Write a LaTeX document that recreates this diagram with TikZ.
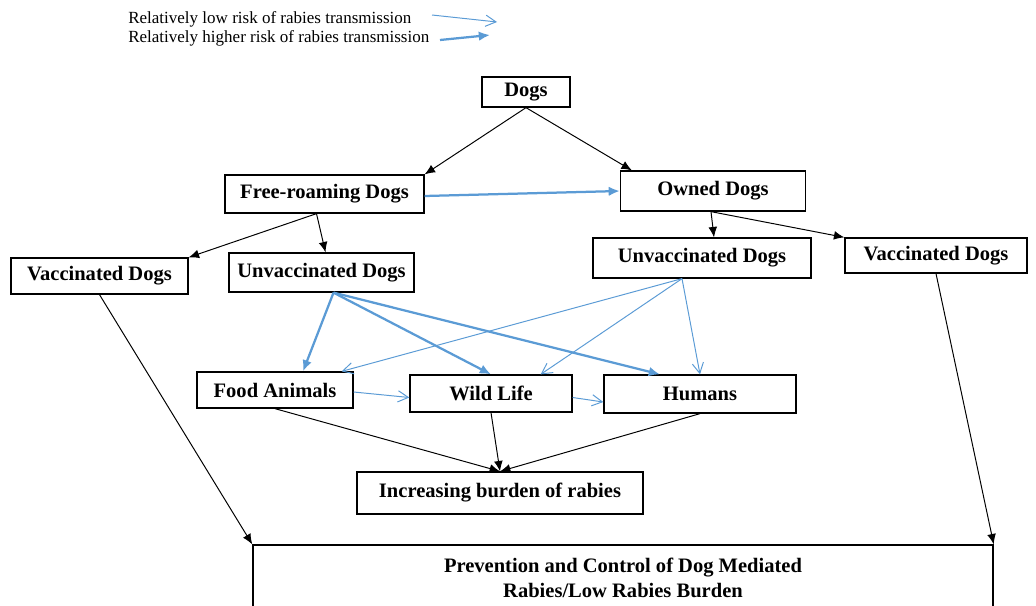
\documentclass[tikz,border=0pt]{standalone}
\usepackage{fontspec}
\setmainfont{Liberation Serif}
\usetikzlibrary{arrows.meta, positioning, calc}
\definecolor{RiskBlue}{RGB}{91,155,213}

\begin{document}
\begin{tikzpicture}[x=0.025cm, y=-0.025cm,
    box/.style={draw=black, line width=0.9pt, align=center, inner sep=2pt,
        font=\fontsize{14.6}{17.5}\selectfont\bfseries},
    legend/.style={anchor=west, inner sep=0pt, font=\fontsize{12.1}{14}\selectfont},
    link/.style={-{Latex[length=2.6mm, width=2.2mm]}, line width=0.7pt, black},
    lowrisk/.style={-{Straight Barb[length=2.6mm, width=2.8mm]}, line width=0.7pt, RiskBlue},
    highrisk/.style={-{Latex[length=2.8mm, width=2.4mm]}, line width=1.6pt, RiskBlue},
]
\useasboundingbox (0,0) rectangle (1036,605);

% ============ legend ============
\node[legend] (lowtxt)  at (128,19) {Relatively low risk of rabies transmission};
\node[legend] (hightxt) at (128,38) {Relatively higher risk of rabies transmission};
\coordinate (low1) at (432,15);  \coordinate (low2) at (497,22);
\coordinate (high1) at (440,40); \coordinate (high2) at (490,35);
\draw[lowrisk]  (low1) -- (low2);
\draw[highrisk] (high1) -- (high2);

% ============ boxes ============
\node[box, minimum width=2.2cm,   minimum height=0.75cm]  (dogs)   at (526,92)    {Dogs};
\node[box, minimum width=4.975cm, minimum height=0.95cm]  (free)   at (324.5,194) {Free-roaming Dogs};
\node[box, minimum width=4.625cm, minimum height=1.0cm]   (owned)  at (713,191)   {Owned Dogs};
\node[box, minimum width=4.425cm, minimum height=0.9cm]   (vaccL)  at (99.5,276)  {Vaccinated Dogs};
\node[box, minimum width=4.625cm, minimum height=0.975cm] (unvL)   at (321.5,272.5) {Unvaccinated Dogs};
\node[box, minimum width=5.45cm,  minimum height=1.0cm]   (unvR)   at (702,258)   {Unvaccinated Dogs};
\node[box, minimum width=4.55cm,  minimum height=0.875cm] (vaccR)  at (936,255.5) {Vaccinated Dogs};
\node[box, minimum width=3.9cm,   minimum height=0.9cm]   (food)   at (275,390)   {Food Animals};
\node[box, minimum width=4.05cm,  minimum height=0.925cm] (wild)   at (491,393.5) {Wild Life};
\node[box, minimum width=4.8cm,   minimum height=0.95cm]  (humans) at (700,394)   {Humans};
\node[box, minimum width=7.15cm,  minimum height=1.05cm]  (burden) at (500,493)   {Increasing burden of rabies};
\node[box, minimum width=18.5cm,  minimum height=1.65cm]  (prev)   at (623,578)
    {Prevention and Control of Dog Mediated\\Rabies/Low Rabies Burden};

% ============ black links ============
\draw[link] (dogs.south) -- (free.north east);
\draw[link] (dogs.south) -- ([xshift=0.3cm]owned.north west);
\draw[link] ([xshift=-0.2cm]free.south) -- ([xshift=0.1cm]unvL.north);
\draw[link] ([xshift=-0.2cm]free.south) -- (vaccL.north east);
\draw[link] ([xshift=-0.05cm]owned.south) -- ([xshift=0.3cm]unvR.north);
\draw[link] ([xshift=-0.05cm]owned.south) -- (vaccR.north west);
\draw[link] (vaccL.south) -- (prev.north west);
\draw[link] (vaccR.south) -- (prev.north east);
\foreach \p in {food,wild,humans} \draw[link] (\p.south) -- (burden.north);

% ============ risk links ============
\draw[highrisk] ([yshift=-0.05cm]free.east) -- (owned.west);
\draw[highrisk] ([xshift=0.3cm]unvL.south) -- ([xshift=0.7cm]food.north);
\draw[highrisk] ([xshift=0.3cm]unvL.south) -- (wild.north);
\draw[highrisk] ([xshift=0.3cm]unvL.south) -- ([xshift=-1cm]humans.north);
\draw[lowrisk] ([xshift=-0.5cm]unvR.south) -- ([xshift=-0.3cm]food.north east);
\draw[lowrisk] ([xshift=-0.5cm]unvR.south) -- ([xshift=-0.8cm]wild.north east);
\draw[lowrisk] ([xshift=-0.5cm]unvR.south) -- (humans.north);
\draw[lowrisk] ([yshift=-0.05cm]food.east) -- ([yshift=-0.1cm]wild.west);
\draw[lowrisk] ([yshift=-0.1cm]wild.east) -- ([yshift=-0.2cm]humans.west);

\end{tikzpicture}
\end{document}
